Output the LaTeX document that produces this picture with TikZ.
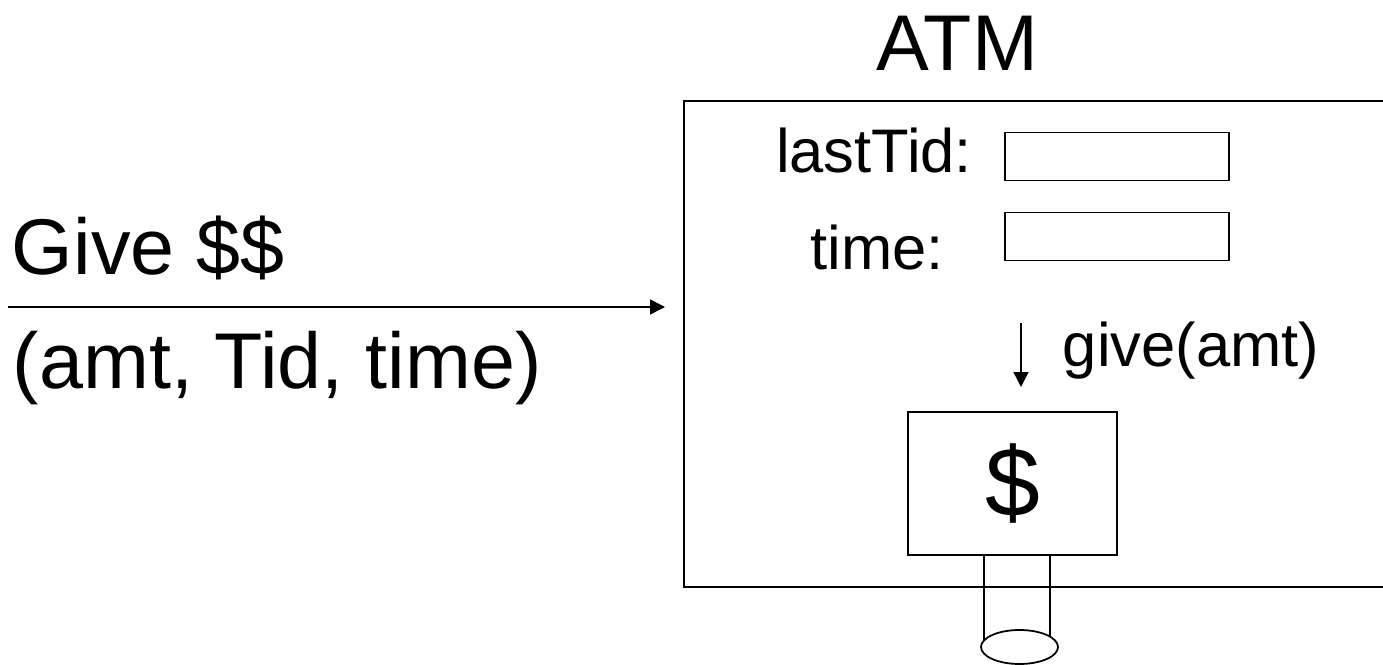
\documentclass[tikz,border=0pt]{standalone}
\usepackage{fontspec}
\setmainfont{Liberation Sans}
\usetikzlibrary{arrows.meta,shapes.geometric}

\begin{document}
\begin{tikzpicture}[x=0.02cm,y=-0.02cm,line width=1.1pt,
                    big/.style={inner sep=0pt,font=\fontsize{45}{54}\selectfont},
                    lbl/.style={inner sep=0pt,font=\fontsize{35}{42}\selectfont},
                    fld/.style={draw,line width=1pt,inner sep=0pt,minimum width=4.48cm,minimum height=0.96cm},
                    tip/.style={line width=0.8pt,-{Triangle[length=3mm,width=3mm]}}]
  \useasboundingbox (0,0) rectangle (1383,665);
  \clip (0,0) rectangle (1383,665);
  % the ATM and its parts
  \node[draw,minimum width=14.32cm,minimum height=9.72cm] (atm) at (1042,344) {};
  \node[big,anchor=base] (title) at (957.5,71) {ATM};
  \node[lbl,anchor=base east] (tidlbl) at (973,173) {lastTid:};
  \node[fld] (tidbox) at (1117,156.5) {};
  \node[lbl,anchor=base east] (timelbl) at (945,270) {time:};
  \node[fld] (timebox) at (1117,236.5) {};
  \node[draw,inner sep=0pt,minimum width=4.18cm,minimum height=2.86cm,
        font=\fontsize{56}{66}\selectfont] (cash) at (1012.5,483.5) {\$};
  % chute under the cash box
  \coordinate (slotc) at (1019.5,647);
  \draw[line width=1pt] ([xshift=-0.57cm]cash.south) -- ([xshift=-0.57cm]cash.south |- slotc);
  \draw[line width=1pt] ([xshift=0.75cm]cash.south) -- ([xshift=0.75cm]cash.south |- slotc);
  \node[draw,fill=white,ellipse,line width=1pt,inner sep=0pt,minimum width=1.54cm,minimum height=0.68cm] (slot) at (slotc) {};
  % call into the box
  \coordinate (gtop) at (1021,323);
  \coordinate (gbot) at (1021,387);
  \draw[tip] (gtop) -- (gbot);
  \node[lbl,anchor=base west] (call) at (1062,367) {give(amt)};
  % message from outside
  \node[big,anchor=base west] (give) at (11,275) {Give \$\$};
  \node[big,anchor=base west] (args) at (12,389) {(amt, Tid, time)};
  \coordinate (src) at (8,307);
  \coordinate (dst) at (665,307);
  \draw[tip] (src) -- (dst);
\end{tikzpicture}
\end{document}
